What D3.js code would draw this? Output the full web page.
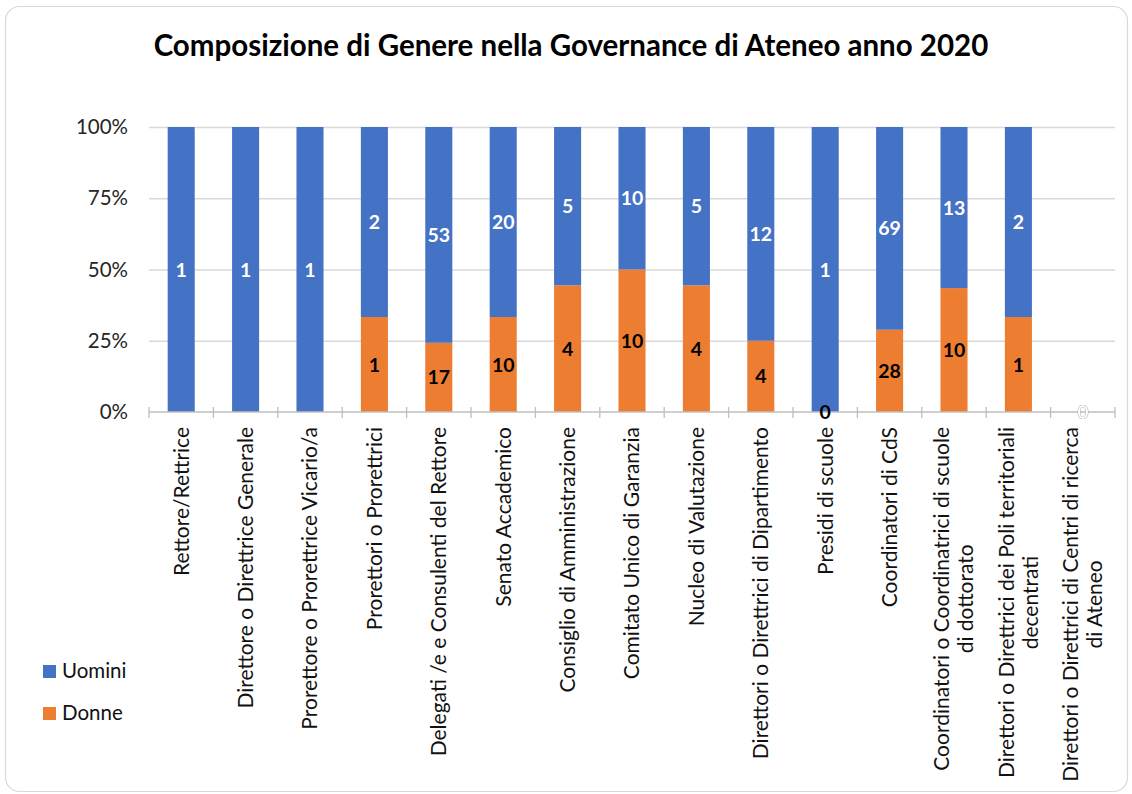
<!DOCTYPE html>
<html>
<head>
<meta charset="utf-8">
<script src="https://cdn.jsdelivr.net/npm/d3@7"></script>
<style>
  html, body { margin: 0; padding: 0; background: #fff; }
  svg { display: block; }
  text { font-family: Lato, "Open Sans", sans-serif; }
</style>
</head>
<body>
<svg id="chart" width="1132" height="794"></svg>
<script>
const categories = [
  ["Rettore/Rettrice"],
  ["Direttore o Direttrice Generale"],
  ["Prorettore o Prorettrice Vicario/a"],
  ["Prorettori o Prorettrici"],
  ["Delegati /e e Consulenti del Rettore"],
  ["Senato Accademico"],
  ["Consiglio di Amministrazione"],
  ["Comitato Unico di Garanzia"],
  ["Nucleo di Valutazione"],
  ["Direttori o Direttrici di Dipartimento"],
  ["Presidi di scuole"],
  ["Coordinatori di CdS"],
  ["Coordinatori o Coordinatrici di scuole", "di dottorato"],
  ["Direttori o Direttrici dei Poli territoriali", "decentrati"],
  ["Direttori o Direttrici di Centri di ricerca", "di Ateneo"]
];
// null = empty cell (no data label shown)
const uomini = [1, 1, 1, 2, 53, 20, 5, 10, 5, 12, 1, 69, 13, 2, 0];
const donne  = [null, null, null, 1, 17, 10, 4, 10, 4, 4, 0, 28, 10, 1, 0];
const seriesNames = ["Uomini", "Donne"];
const yTicks = [0, 0.25, 0.5, 0.75, 1];
const titleText = "Composizione di Genere nella Governance di Ateneo anno 2020";

const BLUE = "#4472C4", ORANGE = "#ED7D31";
const svg = d3.select("#chart");

// frame
svg.append("rect")
  .attr("x", 5.5).attr("y", 6.5).attr("width", 1122).attr("height", 785)
  .attr("rx", 14).attr("ry", 14)
  .attr("fill", "#fff").attr("stroke", "#d9d9d9").attr("stroke-width", 1.2);

const plotLeft = 149, plotRight = 1115, plotTop = 127, plotBottom = 412;

const x = d3.scaleBand()
  .domain(d3.range(categories.length))
  .range([plotLeft, plotRight])
  .paddingInner(0.58)
  .paddingOuter(0.29);

const y = d3.scaleLinear().domain([0, 1]).range([plotBottom, plotTop]);

// title
svg.append("text")
  .attr("x", 571).attr("y", 56)
  .attr("text-anchor", "middle")
  .attr("font-size", 29.5).attr("font-weight", 700)
  .attr("fill", "#000")
  .text(titleText);

// gridlines
const grid = svg.append("g")
  .attr("transform", `translate(${plotLeft},0)`)
  .call(d3.axisLeft(y).tickValues(yTicks.filter(d => d > 0)).tickSize(-(plotRight - plotLeft)).tickFormat(""));
grid.select(".domain").remove();
grid.selectAll("line").attr("stroke", "#d9d9d9").attr("stroke-width", 1.3);

// y labels
const yAxis = svg.append("g")
  .attr("transform", `translate(${plotLeft},0)`)
  .call(d3.axisLeft(y).tickValues(yTicks).tickSize(0).tickPadding(21).tickFormat(d3.format(".0%")));
yAxis.select(".domain").remove();
yAxis.selectAll("text")
  .attr("font-size", 20.5).attr("fill", "#262626")
  .style("font-family", "Lato, 'Open Sans', sans-serif");

// stacked data (percentages)
const rows = categories.map((c, i) => {
  const u = uomini[i] || 0, d = donne[i] || 0;
  const tot = u + d;
  return {
    i,
    Donne: tot ? d / tot : 0,
    Uomini: tot ? u / tot : 0,
    vals: { Donne: donne[i], Uomini: uomini[i] }
  };
});
const stack = d3.stack().keys(["Donne", "Uomini"]);
const stacked = stack(rows);
const color = { Donne: ORANGE, Uomini: BLUE };
const labelColor = { Donne: "#000", Uomini: "#fff" };

stacked.forEach(s => {
  svg.append("g").selectAll("rect")
    .data(s)
    .join("rect")
    .attr("x", d => x(d.data.i))
    .attr("width", x.bandwidth())
    .attr("y", d => y(d[1]))
    .attr("height", d => y(d[0]) - y(d[1]))
    .attr("fill", color[s.key]);
});

// axis line + ticks
const axisG = svg.append("g");
axisG.append("line")
  .attr("x1", plotLeft).attr("x2", plotRight)
  .attr("y1", y(0)).attr("y2", y(0))
  .attr("stroke", "#bfbfbf").attr("stroke-width", 1.3);
axisG.selectAll("line.tick")
  .data(d3.range(categories.length + 1))
  .join("line")
  .attr("class", "tick")
  .attr("x1", k => plotLeft + k * x.step()).attr("x2", k => plotLeft + k * x.step())
  .attr("y1", y(0) - 5).attr("y2", y(0) + 6)
  .attr("stroke", "#bfbfbf").attr("stroke-width", 1.3);

// data labels
stacked.forEach(s => {
  svg.append("g").selectAll("text")
    .data(s.filter(d => d.data.vals[s.key] !== null))
    .join("text")
    .attr("x", d => x(d.data.i) + x.bandwidth() / 2)
    .attr("y", d => (y(d[0]) + y(d[1])) / 2)
    .attr("dy", "0.36em")
    .attr("text-anchor", "middle")
    .attr("font-size", 19.5).attr("font-weight", 700)
    .attr("fill", labelColor[s.key])
    .text(d => d.data.vals[s.key]);
});

// x labels (rotated, multi-line centered)
const labelTop = 427, lineGap = 24;
categories.forEach((lines, i) => {
  const cx = x(i) + x.bandwidth() / 2;
  const n = lines.length;
  const g = svg.append("g");
  const texts = lines.map((ln, j) => g.append("text")
    .attr("font-size", 21).attr("fill", "#111")
    .text(ln));
  const lens = texts.map(t => t.node().getComputedTextLength());
  const maxLen = d3.max(lens);
  texts.forEach((t, j) => {
    const lx = cx + (j - (n - 1) / 2) * lineGap;
    const midY = labelTop + maxLen / 2;
    t.attr("text-anchor", "middle")
     .attr("dy", "0.35em")
     .attr("transform", `translate(${lx},${midY}) rotate(-90)`);
  });
});

// legend
const legend = svg.append("g");
seriesNames.forEach((name, j) => {
  const ly = 665 + j * 42;
  legend.append("rect").attr("x", 43).attr("y", ly).attr("width", 13).attr("height", 13)
    .attr("fill", color[name]);
  legend.append("text").attr("x", 62).attr("y", ly + 13)
    .attr("font-size", 20.5).attr("fill", "#111").text(name);
});
</script>
</body>
</html>
